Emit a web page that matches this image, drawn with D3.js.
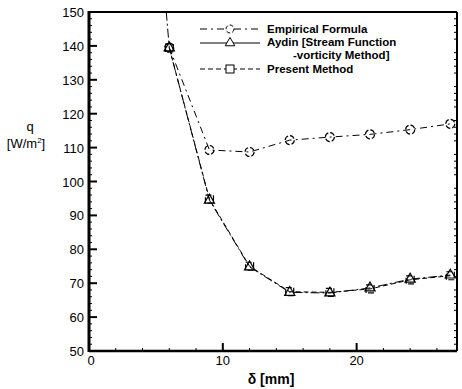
<!DOCTYPE html>
<html><head><meta charset="utf-8">
<script src="https://cdn.jsdelivr.net/npm/d3@7"></script>
<style>body{margin:0;background:#fff}svg{display:block}text{font-family:"Liberation Sans",Arial,sans-serif;fill:#000}</style>
</head><body><svg id="c" width="462" height="389"></svg>
<script>
const deltaMM = [3, 6, 9, 12, 15, 18, 21, 24, 27];
const empirical = [null, 139.5, 109.3, 108.7, 112.2, 113.1, 113.9, 115.3, 117];
const aydin = [280, 139.4, 94.5, 74.8, 67.3, 67.1, 68.6, 71.2, 72.4];
const present = [null, 139.4, 94.8, 75.0, 67.5, 67.3, 68.3, 71.0, 72.2];
const xTicks = [0, 10, 20];
const yTicks = [50, 60, 70, 80, 90, 100, 110, 120, 130, 140, 150];
const legendLabels = ["Empirical Formula", "Aydin [Stream Function", "-vorticity Method]", "Present Method"];

const svg = d3.select("#c");
const L = 89, R = 457, T = 12, B = 351;
const x = d3.scaleLinear().domain([0, 27.5]).range([L, R]);
const y = d3.scaleLinear().domain([50, 150]).range([B, T]);

svg.append("defs").append("clipPath").attr("id","clip")
  .append("rect").attr("x",L).attr("y",T).attr("width",R-L).attr("height",B-T);

// minor ticks
const g = svg.append("g");
d3.range(52, 150, 2).filter(v => v % 10 !== 0).forEach(v => {
  g.append("line").attr("x1",L).attr("x2",L+3).attr("y1",y(v)).attr("y2",y(v)).attr("stroke","#000").attr("stroke-width",1);
  g.append("line").attr("x1",R-3).attr("x2",R).attr("y1",y(v)).attr("y2",y(v)).attr("stroke","#000").attr("stroke-width",1);
});
d3.range(2, 27.5, 2).filter(v => v % 10 !== 0).forEach(v => {
  g.append("line").attr("x1",x(v)).attr("x2",x(v)).attr("y1",B).attr("y2",B-3).attr("stroke","#000").attr("stroke-width",1);
});
// major ticks
yTicks.forEach(v => {
  g.append("line").attr("x1",L).attr("x2",L+8).attr("y1",y(v)).attr("y2",y(v)).attr("stroke","#000").attr("stroke-width",2);
  g.append("text").attr("x",L-5).attr("y",y(v)+5).attr("text-anchor","end").attr("font-size",13).text(v);
});
xTicks.forEach(v => {
  g.append("line").attr("x1",x(v)).attr("x2",x(v)).attr("y1",B).attr("y2",B-8).attr("stroke","#000").attr("stroke-width",2);
  g.append("text").attr("x",x(v)+ (v===0?2:0)).attr("y",B+14).attr("text-anchor","middle").attr("font-size",13).text(v);
});

// frame
svg.append("line").attr("x1",L).attr("x2",R).attr("y1",T).attr("y2",T).attr("stroke","#000").attr("stroke-width",2);
svg.append("line").attr("x1",R).attr("x2",R).attr("y1",T).attr("y2",B).attr("stroke","#000").attr("stroke-width",2);
svg.append("line").attr("x1",L).attr("x2",R).attr("y1",B).attr("y2",B).attr("stroke","#000").attr("stroke-width",2.5);
svg.append("line").attr("x1",L).attr("x2",L).attr("y1",T-1).attr("y2",B+1).attr("stroke","#000").attr("stroke-width",3);

// series
const plot = svg.append("g").attr("clip-path","url(#clip)");
function series(vals, dash) {
  const pts = deltaMM.map((d,i)=>[d, vals[i]]).filter(p => p[1] !== null);
  const line = d3.line().x(p=>x(p[0])).y(p=>y(p[1]));
  plot.append("path").attr("d", line(pts)).attr("fill","none").attr("stroke","#000")
    .attr("stroke-width",1).attr("stroke-dasharray",dash);
  return pts;
}
const ePts = series(empirical, "7,4,2,4");
const aPts = series(aydin, "9,3,2,3");
const pPts = series(present, "5,3");

const mk = svg.append("g").attr("fill","none").attr("stroke","#000").attr("stroke-width",1.2);
ePts.forEach(p => mk.append("circle").attr("cx",x(p[0])).attr("cy",y(p[1])).attr("r",4.5).attr("stroke-dasharray","5,2"));
aPts.filter(p=>p[1]<=150).forEach(p => mk.append("path")
  .attr("d", d3.symbol(d3.symbolTriangle, 45)()).attr("transform",`translate(${x(p[0])},${y(p[1])})`));
pPts.forEach(p => mk.append("rect").attr("x",x(p[0])-4).attr("y",y(p[1])-4).attr("width",8).attr("height",8).attr("stroke-dasharray","6,2"));

// legend
const lg = svg.append("g");
const lx1 = 200, lx2 = 260, lt = 267;
const rows = [29, 43, 69];
const dashes = ["7,4,2,4", "none", "5,3"];
rows.forEach((ry, i) => {
  lg.append("line").attr("x1",lx1).attr("x2",lx2).attr("y1",ry).attr("y2",ry).attr("stroke","#000").attr("stroke-width",1).attr("stroke-dasharray",dashes[i]);
});
lg.append("circle").attr("cx",230).attr("cy",29).attr("r",4).attr("fill","#fff").attr("stroke","#000").attr("stroke-dasharray","4,2");
lg.append("path").attr("d", d3.symbol(d3.symbolTriangle, 40)()).attr("transform","translate(230,43)").attr("fill","#fff").attr("stroke","#000");
lg.append("rect").attr("x",226).attr("y",65).attr("width",8).attr("height",8).attr("fill","#fff").attr("stroke","#000");
const lts = [[lt,33,0],[lt,46,1],[293,59,2],[lt,73,3]];
lts.forEach(([tx,ty,i]) => lg.append("text").attr("x",tx).attr("y",ty).attr("font-size",11.5).attr("font-weight","bold").text(legendLabels[i]));

// axis titles
svg.append("text").attr("x",x(13.6)).attr("y",384).attr("text-anchor","middle").attr("font-size",14).attr("font-weight","bold").text("δ [mm]");
svg.append("text").attr("x",30).attr("y",131).attr("text-anchor","middle").attr("font-size",13).text("q");
const yl = svg.append("text").attr("x",26).attr("y",148).attr("text-anchor","middle").attr("font-size",13);
yl.append("tspan").text("[W/m");
yl.append("tspan").attr("font-size",8).attr("dy",-5).text("2");
yl.append("tspan").attr("dy",5).text("]");
</script></body></html>
